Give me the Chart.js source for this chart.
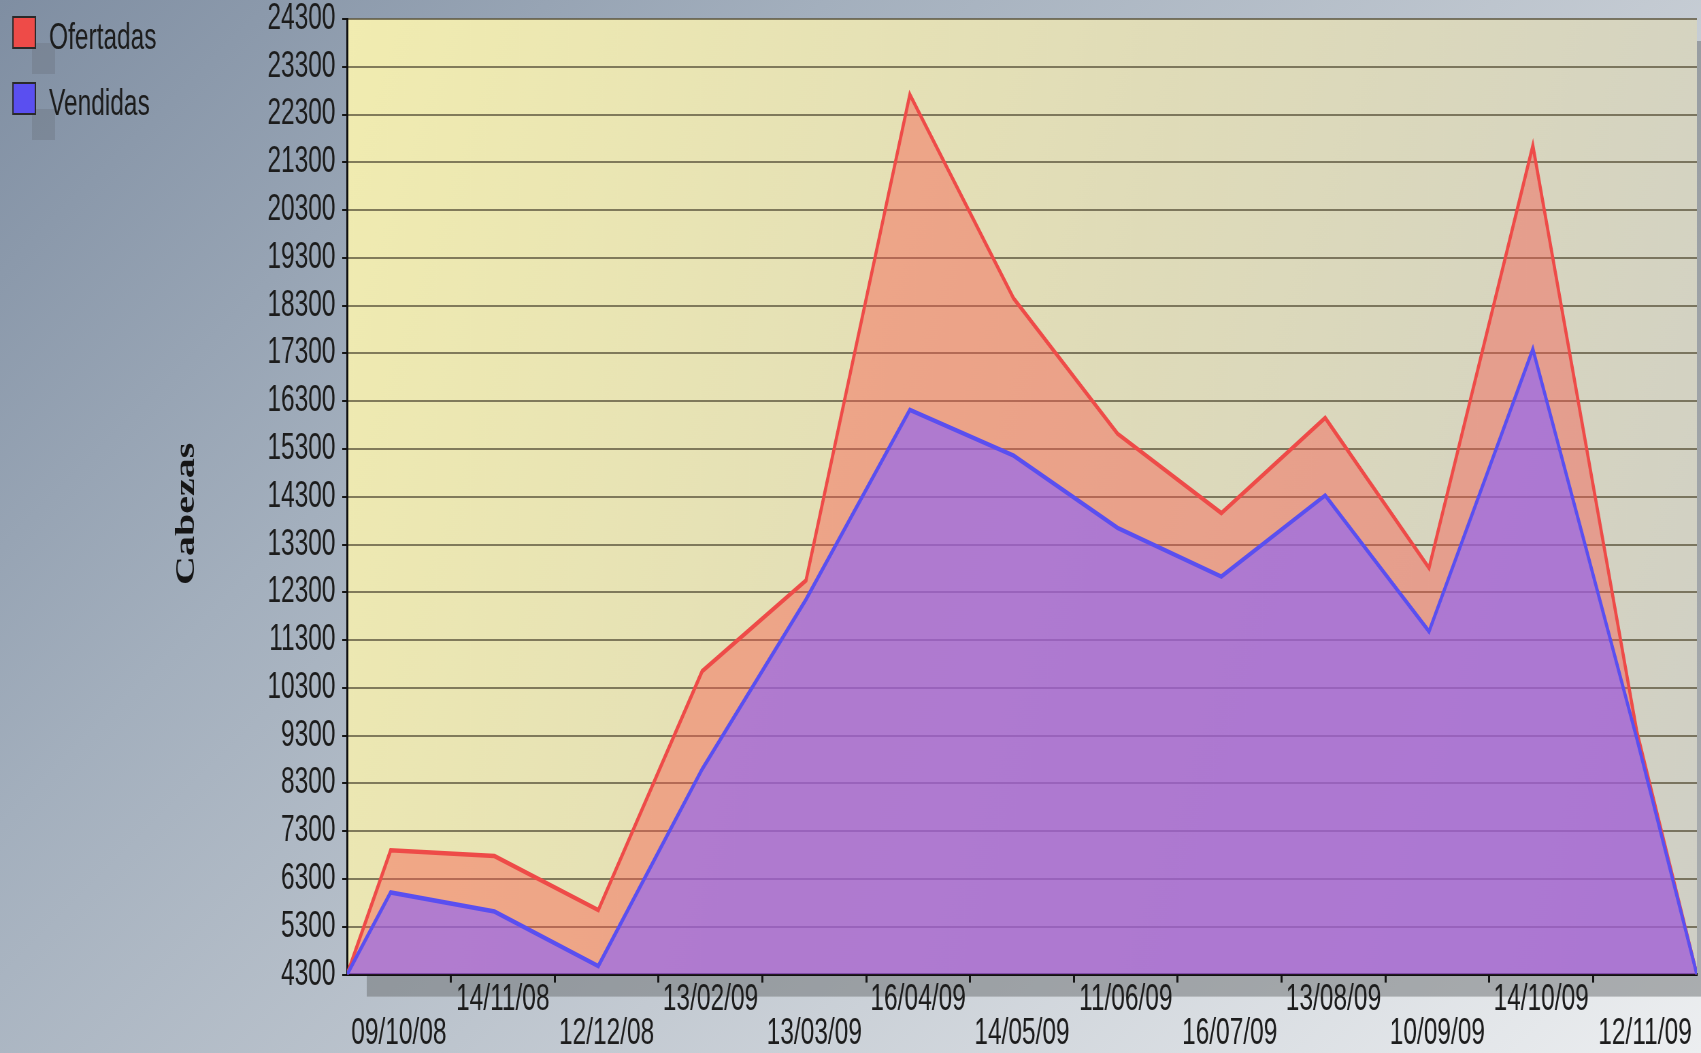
<!DOCTYPE html>
<html>
<head>
<meta charset="utf-8">
<script src="https://cdn.jsdelivr.net/npm/chart.js@4/dist/chart.umd.min.js"></script>
<style>
  html, body { margin: 0; padding: 0; overflow: hidden; }
  body {
    width: 1701px; height: 1053px;
    background: linear-gradient(135deg, #7f8ea2 0%, #a3afbd 30%, #c3cad2 60%, #eceef0 100%);
  }
</style>
</head>
<body>
<!-- the original picture is stretched vertically: draw wide, show narrow -->
<canvas id="chart" width="2500" height="1053" style="display:block;width:1701px;height:1053px"></canvas>
<script>
'use strict';

// ─── DATOS ────────────────────────────────────────────────────
const fechas = ['09/10/08', '14/11/08', '12/12/08', '13/02/09', '13/03/09', '16/04/09', '14/05/09',
                '11/06/09', '16/07/09', '13/08/09', '10/09/09', '14/10/09', '12/11/09'];
const ofertadas = [6900, 6780, 5650, 10650, 12550, 22720, 18450, 15620, 13960, 15950, 12810, 21650, 9400];
const vendidas  = [6020, 5620, 4480, 8600, 12150, 16120, 15160, 13650, 12630, 14330, 11480, 17390, 9250];

const Y_MIN = 4300;
const Y_MAX = 24300;
const Y_STEP = 1000;
const Y_TITLE = 'Cabezas';

// the points sit a little left of the category centres, as in the original
const X_SHIFT = 0.08;
const X_MIN = X_SHIFT - 0.5;
const X_MAX = fechas.length - 1 + X_SHIFT + 0.5;

const FONT = '"Liberation Sans", Arial, sans-serif';
const SERIF = '"Liberation Serif", "Times New Roman", serif';

// área que arranca y termina en la base del eje
const toPoints = (vals) => [
    { x: X_MIN, y: Y_MIN },
    ...vals.map((v, i) => ({ x: i, y: v })),
    { x: X_MAX, y: Y_MIN },
];

const isLabelTick = (v) => Math.abs(v - X_SHIFT - Math.round(v - X_SHIFT)) < 1e-6;

// ─── PLUGINS ──────────────────────────────────────────────────
const plotBackground = {
    id: 'plotBackground',
    beforeDraw(chart) {
        const { ctx, chartArea: a } = chart;
        ctx.save();
        // sombra del área de trazado
        ctx.fillStyle = 'rgba(105,110,112,0.5)';
        ctx.fillRect(a.left + 29, a.top + 22, a.right - a.left, a.bottom - a.top);
        const g = ctx.createLinearGradient(a.left, a.top, a.right, a.bottom);
        g.addColorStop(0, '#f1ecb0');
        g.addColorStop(0.5, '#e0dcb8');
        g.addColorStop(1, '#cfcfc6');
        ctx.fillStyle = g;
        ctx.fillRect(a.left, a.top, a.right - a.left, a.bottom - a.top);
        ctx.restore();
    }
};

// leyenda arriba a la izquierda + título del eje Y
const legendBoxes = {
    id: 'legendBoxes',
    afterDraw(chart) {
        const { ctx, chartArea: a } = chart;
        ctx.save();
        ctx.font = '36px ' + FONT;
        ctx.textBaseline = 'middle';
        chart.data.datasets.forEach((ds, i) => {
            const y = 17 + i * 66;
            ctx.fillStyle = 'rgba(110,120,132,0.45)';
            ctx.fillRect(47, y + 26, 34, 31);
            ctx.fillStyle = ds.borderColor;
            ctx.fillRect(19, y, 33, 31);
            ctx.strokeStyle = '#2a2a2a';
            ctx.lineWidth = 2;
            ctx.strokeRect(19, y, 33, 31);
            ctx.fillStyle = '#1c1c1c';
            ctx.fillText(ds.label, 72, y + 22);
        });

        ctx.translate(275, (a.top + a.bottom) / 2 + 17);
        ctx.rotate(-Math.PI / 2);
        ctx.font = 'bold 40px ' + SERIF;
        ctx.textAlign = 'center';
        ctx.fillStyle = '#151515';
        ctx.fillText(Y_TITLE, 0, 0);
        ctx.restore();
    }
};

// ─── GRÁFICO ──────────────────────────────────────────────────
new Chart(document.getElementById('chart'), {
    type: 'line',
    data: {
        datasets: [
            {
                label: 'Ofertadas',
                data: toPoints(ofertadas),
                borderColor: '#ee4b48',
                backgroundColor: 'rgba(248,88,78,0.44)',
                borderWidth: 4.5,
                fill: 'origin',
                pointRadius: 0,
                tension: 0,
                order: 2
            },
            {
                label: 'Vendidas',
                data: toPoints(vendidas),
                borderColor: '#5a4ff0',
                backgroundColor: 'rgba(135,95,255,0.6)',
                borderWidth: 4.5,
                fill: 'origin',
                pointRadius: 0,
                tension: 0,
                order: 1
            }
        ]
    },
    options: {
        responsive: false,
        devicePixelRatio: 1,
        animation: false,
        layout: { padding: { top: 19, right: 6, bottom: 2, left: 0 } },
        plugins: {
            legend: { display: false },
            tooltip: { enabled: false }
        },
        scales: {
            x: {
                type: 'linear',
                min: X_MIN,
                max: X_MAX,
                afterBuildTicks: (scale) => {
                    const ticks = [];
                    fechas.forEach((f, i) => {
                        ticks.push({ value: i + X_SHIFT });
                        if (i < fechas.length - 1) ticks.push({ value: i + X_SHIFT + 0.5 });
                    });
                    scale.ticks = ticks;
                },
                ticks: {
                    autoSkip: false,
                    maxRotation: 0,
                    padding: 0,
                    color: '#1c1c1c',
                    font: { family: FONT, size: 36, lineHeight: 0.95 },
                    callback: (v) => {
                        if (!isLabelTick(v)) return '';
                        const i = Math.round(v - X_SHIFT);
                        return i % 2 === 0 ? ['', fechas[i]] : [fechas[i], ''];
                    }
                },
                grid: {
                    drawOnChartArea: false,
                    tickLength: 8,
                    tickWidth: 3,
                    tickColor: (c) => (c.tick && !isLabelTick(c.tick.value)) ? '#151515' : 'rgba(0,0,0,0)'
                },
                border: { color: '#101010', width: 3 }
            },
            y: {
                min: Y_MIN,
                max: Y_MAX,
                afterFit: (scale) => {
                    scale.width = 510;
                    scale.paddingTop = 0;
                    scale.paddingBottom = 0;
                },
                ticks: {
                    stepSize: Y_STEP,
                    padding: 10,
                    color: '#1c1c1c',
                    font: { family: FONT, size: 36, lineHeight: 1.0 },
                    callback: (v) => String(v)
                },
                grid: {
                    color: 'rgba(92,86,62,0.75)',
                    lineWidth: 2,
                    tickLength: 7,
                    tickWidth: 2,
                    tickColor: '#151515'
                },
                border: { color: '#101010', width: 3 }
            }
        }
    },
    plugins: [plotBackground, legendBoxes]
});
</script>
</body>
</html>
